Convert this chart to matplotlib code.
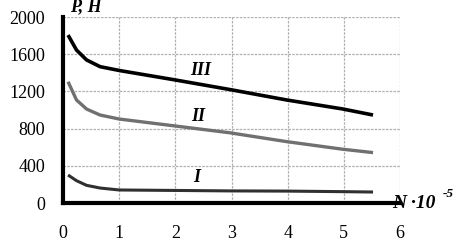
import matplotlib.pyplot as plt

# curve data
n_vals = [0.09, 0.24, 0.42, 0.66, 1.0, 2.0, 2.97, 3.98, 4.98, 5.52]
p_iii = [1806, 1645, 1538, 1466, 1425, 1323, 1220, 1108, 1011, 946]
p_ii = [1304, 1108, 1010, 946, 903, 828, 755, 660, 578, 542]
p_i = [301, 240, 190, 161, 140, 135, 130, 128, 122, 118]

x_ticks = [0, 1, 2, 3, 4, 5, 6]
y_ticks = [0, 400, 800, 1200, 1600, 2000]

plt.rcParams['font.family'] = ['Liberation Serif', 'DejaVu Serif']

fig = plt.figure(figsize=(4.54, 2.44), dpi=100)
ax = fig.add_axes([63 / 454, 1 - 203 / 244, 337 / 454, 186 / 244])

ax.plot(n_vals, p_iii, color='black', lw=2.6, solid_capstyle='butt')
ax.plot(n_vals, p_ii, color='#707070', lw=2.4, solid_capstyle='butt')
ax.plot(n_vals, p_i, color='#303030', lw=2.2, solid_capstyle='butt')

ax.set_xlim(0, 6)
ax.set_ylim(0, 2000)
ax.set_xticks(x_ticks)
ax.set_yticks(y_ticks)
ax.grid(True, color='#b0b0b0', ls=(0, (2, 1)), lw=0.9)
ax.tick_params(length=0, labelsize=13, pad=13)
ax.tick_params(axis='x', pad=16)

for s in ['top', 'right']:
    ax.spines[s].set_visible(False)
for s in ['left', 'bottom']:
    ax.spines[s].set_linewidth(3)

ax.text(2.45, 1430, 'III', fontsize=13, fontweight='bold', style='italic', ha='center', va='center')
ax.text(2.4, 925, 'II', fontsize=13, fontweight='bold', style='italic', ha='center', va='center')
ax.text(2.38, 270, 'I', fontsize=13, fontweight='bold', style='italic', ha='center', va='center')

fig.text(70 / 454, 1 - 7 / 244, 'P, H', fontsize=13, fontweight='bold', style='italic', ha='left', va='center')
fig.text(392 / 454, 1 - 203 / 244, 'N ·10', fontsize=14, fontweight='bold', style='italic', ha='left', va='center')
fig.text(443 / 454, 1 - 194 / 244, '-5', fontsize=9.5, fontweight='bold', style='italic', ha='left', va='center')

fig.savefig('out.png', dpi=100)
